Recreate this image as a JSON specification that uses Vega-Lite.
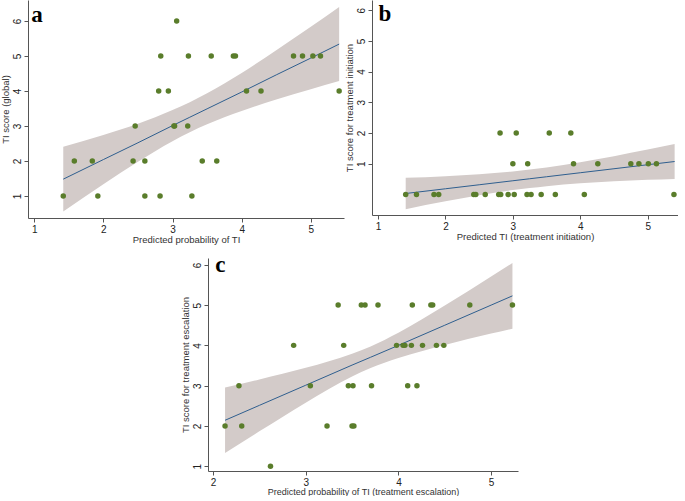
{
  "$schema": "https://vega.github.io/schema/vega-lite/v6.json",
  "padding": {"left": 0, "top": 0, "right": 0, "bottom": 0},
  "background": "white",
  "config": {
    "view": {"stroke": null},
    "font": "Liberation Sans",
    "axis": {
      "grid": false,
      "domainColor": "#555555",
      "tickColor": "#555555",
      "tickSize": 4,
      "labelFont": "Liberation Sans",
      "labelFontSize": 10,
      "labelColor": "#222222",
      "labelPadding": 2,
      "titleFont": "Liberation Sans",
      "titleFontSize": 9.5,
      "titleFontWeight": "normal",
      "titleColor": "#333333",
      "titlePadding": 3,
      "format": "d"
    },
    "axisX": {"titlePadding": 0},
    "axisY": {"labelAngle": 270, "labelAlign": "center", "labelBaseline": "bottom", "titlePadding": 2}
  },
  "datasets": {
    "a_pts": [
      {"x": 1.42, "y": 1}, {"x": 1.92, "y": 1}, {"x": 2.60, "y": 1}, {"x": 2.82, "y": 1}, {"x": 3.28, "y": 1},
      {"x": 1.58, "y": 2}, {"x": 1.84, "y": 2}, {"x": 2.43, "y": 2}, {"x": 2.60, "y": 2}, {"x": 3.43, "y": 2}, {"x": 3.64, "y": 2},
      {"x": 2.46, "y": 3}, {"x": 3.02, "y": 3}, {"x": 3.03, "y": 3}, {"x": 3.22, "y": 3},
      {"x": 2.80, "y": 4}, {"x": 2.94, "y": 4}, {"x": 4.07, "y": 4}, {"x": 4.28, "y": 4}, {"x": 5.41, "y": 4},
      {"x": 2.83, "y": 5}, {"x": 3.23, "y": 5}, {"x": 3.56, "y": 5}, {"x": 3.88, "y": 5}, {"x": 3.91, "y": 5}, {"x": 4.75, "y": 5}, {"x": 4.88, "y": 5}, {"x": 5.03, "y": 5}, {"x": 5.14, "y": 5},
      {"x": 3.06, "y": 6}
    ],
    "a_band": [
      {"x": 1.42, "fit": 1.48, "lo": 0.555, "hi": 2.405},
      {"x": 2.0, "fit": 2.04, "lo": 1.335, "hi": 2.745},
      {"x": 2.5, "fit": 2.52, "lo": 1.975, "hi": 3.065},
      {"x": 3.0, "fit": 3.01, "lo": 2.566, "hi": 3.454},
      {"x": 3.25, "fit": 3.25, "lo": 2.82, "hi": 3.68},
      {"x": 3.5, "fit": 3.49, "lo": 3.046, "hi": 3.934},
      {"x": 4.0, "fit": 3.97, "lo": 3.425, "hi": 4.515},
      {"x": 4.5, "fit": 4.46, "lo": 3.755, "hi": 5.165},
      {"x": 5.0, "fit": 4.94, "lo": 4.047, "hi": 5.833},
      {"x": 5.41, "fit": 5.34, "lo": 4.283, "hi": 6.397}
    ],
    "b_pts": [
      {"x": 1.41, "y": 0}, {"x": 1.57, "y": 0}, {"x": 1.83, "y": 0}, {"x": 1.90, "y": 0}, {"x": 2.42, "y": 0}, {"x": 2.45, "y": 0}, {"x": 2.59, "y": 0}, {"x": 2.79, "y": 0}, {"x": 2.82, "y": 0}, {"x": 2.93, "y": 0}, {"x": 3.02, "y": 0}, {"x": 3.21, "y": 0}, {"x": 3.27, "y": 0}, {"x": 3.42, "y": 0}, {"x": 3.63, "y": 0}, {"x": 4.06, "y": 0}, {"x": 5.39, "y": 0},
      {"x": 3.00, "y": 1}, {"x": 3.22, "y": 1}, {"x": 3.90, "y": 1}, {"x": 4.26, "y": 1}, {"x": 4.75, "y": 1}, {"x": 4.87, "y": 1}, {"x": 5.01, "y": 1}, {"x": 5.13, "y": 1},
      {"x": 2.81, "y": 2}, {"x": 3.05, "y": 2}, {"x": 3.54, "y": 2}, {"x": 3.86, "y": 2}
    ],
    "b_band": [
      {"x": 1.41, "fit": 0.03, "lo": -0.479, "hi": 0.539},
      {"x": 2.0, "fit": 0.184, "lo": -0.226, "hi": 0.594},
      {"x": 2.5, "fit": 0.314, "lo": -0.03, "hi": 0.658},
      {"x": 3.0, "fit": 0.445, "lo": 0.14, "hi": 0.75},
      {"x": 3.25, "fit": 0.51, "lo": 0.21, "hi": 0.81},
      {"x": 3.5, "fit": 0.575, "lo": 0.27, "hi": 0.88},
      {"x": 4.0, "fit": 0.706, "lo": 0.362, "hi": 1.05},
      {"x": 4.5, "fit": 0.836, "lo": 0.426, "hi": 1.246},
      {"x": 5.0, "fit": 0.967, "lo": 0.474, "hi": 1.46},
      {"x": 5.4, "fit": 1.071, "lo": 0.504, "hi": 1.638}
    ],
    "c_pts": [
      {"x": 2.62, "y": 1},
      {"x": 2.13, "y": 2}, {"x": 2.31, "y": 2}, {"x": 3.23, "y": 2}, {"x": 3.50, "y": 2}, {"x": 3.52, "y": 2},
      {"x": 2.28, "y": 3}, {"x": 3.05, "y": 3}, {"x": 3.46, "y": 3}, {"x": 3.51, "y": 3}, {"x": 3.71, "y": 3}, {"x": 4.10, "y": 3}, {"x": 4.20, "y": 3},
      {"x": 2.87, "y": 4}, {"x": 3.41, "y": 4}, {"x": 3.98, "y": 4}, {"x": 4.05, "y": 4}, {"x": 4.07, "y": 4}, {"x": 4.14, "y": 4}, {"x": 4.26, "y": 4}, {"x": 4.41, "y": 4}, {"x": 4.49, "y": 4},
      {"x": 3.35, "y": 5}, {"x": 3.60, "y": 5}, {"x": 3.64, "y": 5}, {"x": 3.78, "y": 5}, {"x": 4.15, "y": 5}, {"x": 4.35, "y": 5}, {"x": 4.37, "y": 5}, {"x": 4.77, "y": 5}, {"x": 5.23, "y": 5}
    ],
    "c_band": [
      {"x": 2.13, "fit": 2.14, "lo": 1.325, "hi": 2.955},
      {"x": 2.5, "fit": 2.51, "lo": 1.865, "hi": 3.155},
      {"x": 3.0, "fit": 3.01, "lo": 2.578, "hi": 3.442},
      {"x": 3.5, "fit": 3.51, "lo": 3.225, "hi": 3.795},
      {"x": 3.7, "fit": 3.705, "lo": 3.435, "hi": 3.975},
      {"x": 4.0, "fit": 4.0, "lo": 3.687, "hi": 4.313},
      {"x": 4.5, "fit": 4.5, "lo": 4.012, "hi": 4.988},
      {"x": 5.0, "fit": 5.0, "lo": 4.292, "hi": 5.708},
      {"x": 5.23, "fit": 5.23, "lo": 4.415, "hi": 6.045}
    ],
    "letters": [
      {"panel": "a", "x": 1.04, "y": 6.17},
      {"panel": "b", "x": 1.10, "y": 5.87},
      {"panel": "c", "x": 2.08, "y": 6.0}
    ]
  },
  "vconcat": [
    {
      "hconcat": [
        {
          "width": 316,
          "height": 218,
          "layer": [
            {
              "data": {"name": "a_band"},
              "mark": {"type": "area", "color": "#d3cbc9", "interpolate": "monotone"},
              "encoding": {
                "x": {"field": "x", "type": "quantitative", "scale": {"domain": [0.91, 5.48], "nice": false, "zero": false}, "axis": {"values": [1, 2, 3, 4, 5], "title": "Predicted probability of TI"}},
                "y": {"field": "lo", "type": "quantitative", "scale": {"domain": [0.37, 6.6], "nice": false, "zero": false}, "axis": {"values": [1, 2, 3, 4, 5, 6], "title": "TI score (global)"}},
                "y2": {"field": "hi"}
              }
            },
            {
              "data": {"name": "a_band"},
              "mark": {"type": "line", "color": "#2f5f8f", "strokeWidth": 1},
              "encoding": {
                "x": {"field": "x", "type": "quantitative"},
                "y": {"field": "fit", "type": "quantitative"}
              }
            },
            {
              "data": {"name": "a_pts"},
              "mark": {"type": "point", "filled": true, "color": "#5a7d2b", "opacity": 1, "size": 30},
              "encoding": {
                "x": {"field": "x", "type": "quantitative"},
                "y": {"field": "y", "type": "quantitative"}
              }
            },
            {
              "data": {"name": "letters"},
              "transform": [{"filter": "datum.panel === 'a'"}],
              "mark": {"type": "text", "font": "Liberation Serif", "fontSize": 23, "fontWeight": "bold", "color": "#000000"},
              "encoding": {
                "x": {"field": "x", "type": "quantitative"},
                "y": {"field": "y", "type": "quantitative"},
                "text": {"field": "panel"}
              }
            }
          ]
        },
        {
          "width": 306,
          "height": 215,
          "layer": [
            {
              "data": {"name": "b_band"},
              "mark": {"type": "area", "color": "#d3cbc9", "interpolate": "monotone"},
              "encoding": {
                "x": {"field": "x", "type": "quantitative", "scale": {"domain": [0.91, 5.45], "nice": false, "zero": false}, "axis": {"values": [1, 2, 3, 4, 5], "title": "Predicted TI (treatment initiation)"}},
                "y": {"field": "lo", "type": "quantitative", "scale": {"domain": [-0.67, 6.33], "nice": false, "zero": false}, "axis": {"values": [1, 2, 3, 4, 5, 6], "title": "TI score for treatment initiation"}},
                "y2": {"field": "hi"}
              }
            },
            {
              "data": {"name": "b_band"},
              "mark": {"type": "line", "color": "#2f5f8f", "strokeWidth": 1},
              "encoding": {
                "x": {"field": "x", "type": "quantitative"},
                "y": {"field": "fit", "type": "quantitative"}
              }
            },
            {
              "data": {"name": "b_pts"},
              "mark": {"type": "point", "filled": true, "color": "#5a7d2b", "opacity": 1, "size": 30},
              "encoding": {
                "x": {"field": "x", "type": "quantitative"},
                "y": {"field": "y", "type": "quantitative"}
              }
            },
            {
              "data": {"name": "letters"},
              "transform": [{"filter": "datum.panel === 'b'"}],
              "mark": {"type": "text", "font": "Liberation Serif", "fontSize": 23, "fontWeight": "bold", "color": "#000000"},
              "encoding": {
                "x": {"field": "x", "type": "quantitative"},
                "y": {"field": "y", "type": "quantitative"},
                "text": {"field": "panel"}
              }
            }
          ]
        }
      ],
      "spacing": 0
    },
    {
      "hconcat": [
        {
          "width": 152,
          "height": 10,
          "data": {"values": []},
          "mark": {"type": "point", "opacity": 0},
          "encoding": {}
        },
        {
          "width": 310,
          "height": 213,
          "layer": [
            {
              "data": {"name": "c_band"},
              "mark": {"type": "area", "color": "#d3cbc9", "interpolate": "monotone"},
              "encoding": {
                "x": {"field": "x", "type": "quantitative", "scale": {"domain": [1.946, 5.29], "nice": false, "zero": false}, "axis": {"values": [2, 3, 4, 5], "title": "Predicted probability of TI (treatment escalation)", "titleFontSize": 9}},
                "y": {"field": "lo", "type": "quantitative", "scale": {"domain": [0.88, 6.17], "nice": false, "zero": false}, "axis": {"values": [1, 2, 3, 4, 5, 6], "title": "TI score for treatment escalation"}},
                "y2": {"field": "hi"}
              }
            },
            {
              "data": {"name": "c_band"},
              "mark": {"type": "line", "color": "#2f5f8f", "strokeWidth": 1},
              "encoding": {
                "x": {"field": "x", "type": "quantitative"},
                "y": {"field": "fit", "type": "quantitative"}
              }
            },
            {
              "data": {"name": "c_pts"},
              "mark": {"type": "point", "filled": true, "color": "#5a7d2b", "opacity": 1, "size": 30},
              "encoding": {
                "x": {"field": "x", "type": "quantitative"},
                "y": {"field": "y", "type": "quantitative"}
              }
            },
            {
              "data": {"name": "letters"},
              "transform": [{"filter": "datum.panel === 'c'"}],
              "mark": {"type": "text", "font": "Liberation Serif", "fontSize": 23, "fontWeight": "bold", "color": "#000000"},
              "encoding": {
                "x": {"field": "x", "type": "quantitative"},
                "y": {"field": "y", "type": "quantitative"},
                "text": {"field": "panel"}
              }
            }
          ]
        }
      ],
      "spacing": 0
    }
  ],
  "spacing": 9
}
